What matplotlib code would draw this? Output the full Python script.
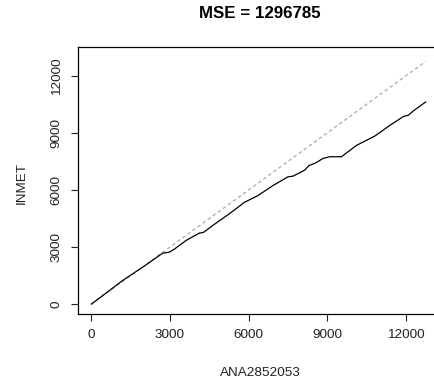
import matplotlib
matplotlib.use("Agg")
import matplotlib.pyplot as plt

plt.rcParams['font.family'] = ['Liberation Sans', 'DejaVu Sans']

# Cumulative data (double mass curve)
ana = [0, 1186, 2082, 2717, 2972, 3164, 3610, 4120, 4273, 4758, 5268, 5842,
       6353, 6927, 7500, 7692, 8138, 8304, 8521, 8840, 9095, 9541, 10115,
       10817, 11391, 11901, 12092, 12284, 12750]
inmet = [0, 1232, 2059, 2675, 2728, 2886, 3343, 3731, 3766, 4259, 4752, 5350,
         5702, 6230, 6688, 6723, 7040, 7286, 7392, 7656, 7744, 7744, 8342,
         8834, 9398, 9856, 9926, 10155, 10620]
xticks = [0, 3000, 6000, 9000, 12000]
yticks = [0, 3000, 6000, 9000, 12000]
title = "MSE = 1296785"

W, H = 435, 383
fig = plt.figure(figsize=(W / 100, H / 100), dpi=100)
ax = fig.add_axes([78 / W, (H - 314) / H, (439 - 78) / W, (314 - 47) / H])

ax.plot(ana, ana, color='#aaaaaa', lw=0.9, dashes=(2.8, 2.2))
ax.plot(ana, inmet, color='black', lw=0.9)

ax.set_xlim(-510, 13260)
ax.set_ylim(-520, 13510)
ax.set_xticks(xticks)
ax.set_yticks(yticks)
ax.set_xticklabels([str(v) for v in xticks], fontsize=9.7, color='#222222')
ax.set_yticklabels([str(v) for v in yticks], fontsize=9.7, rotation=90,
                   va='center', color='#222222')
ax.tick_params(direction='out', length=5, width=0.8, pad=6, colors='#222222')
ax.tick_params(axis='x', labelcolor='#222222')
for s in ax.spines.values():
    s.set_linewidth(0.9)
    s.set_color('black')

fig.text(260 / W, 1 - 14 / H, title, ha='center', va='center',
         fontsize=12.2, fontweight='bold')
fig.text(260 / W, 1 - 373 / H, "ANA2852053", ha='center', va='center',
         fontsize=9.7, color='#222222')
fig.text(21.7 / W, 1 - 183 / H, "INMET", ha='center', va='center',
         fontsize=9.7, rotation=90, color='#222222')

fig.savefig("out.png", dpi=100)
